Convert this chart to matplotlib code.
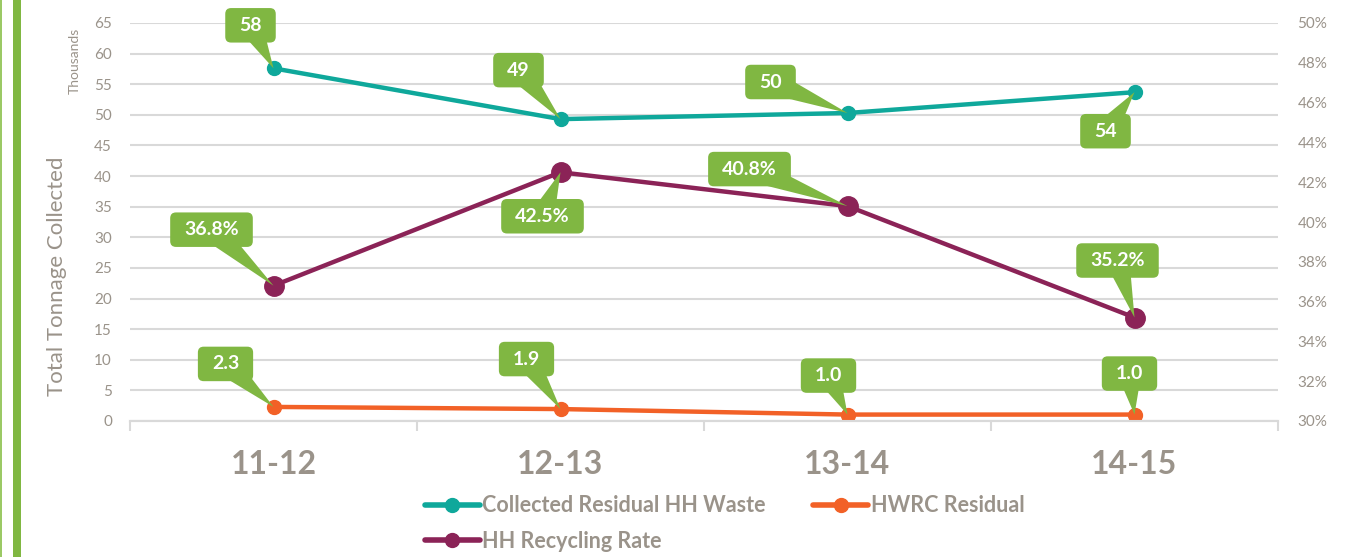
import matplotlib.pyplot as plt
from matplotlib.patches import BoxStyle, Rectangle
from matplotlib.lines import Line2D
from matplotlib.ticker import PercentFormatter

plt.rcParams['font.family'] = ['Lato', 'DejaVu Sans']

years = ['11-12', '12-13', '13-14', '14-15']
residual_hh = [57.6, 49.3, 50.3, 53.7]      # thousand tonnes
hwrc_residual = [2.3, 1.95, 1.05, 1.05]     # thousand tonnes
recycling_rate = [0.368, 0.425, 0.408, 0.352]

residual_labels = ['58', '49', '50', '54']
hwrc_labels = ['2.3', '1.9', '1.0', '1.0']
rate_labels = ['36.8%', '42.5%', '40.8%', '35.2%']

# callout box offsets from the point, in pixels (x right, y up)
residual_offsets = [(-23, 43), (-42, 49), (-77, 31), (-29, -39)]
hwrc_offsets = [(-48, 43), (-34, 50), (-19, 39), (-5, 41)]
rate_offsets = [(-62, 56), (-18, -44), (-98, 37), (-17, 57)]

TEAL = '#0FA89B'
MAROON = '#8B2357'
ORANGE = '#F26127'
GREEN = '#80B742'
GREY = '#9A938A'
GRID = '#D9D9D9'


def callout_box(x0, y0, width, height, mutation_size):
    hpad = 0.72 * mutation_size
    vpad = 0.45 * mutation_size
    rnd = BoxStyle.Round(pad=0, rounding_size=0.3)
    return rnd(x0 - hpad, y0 - vpad, width + 2 * hpad, height + 2 * vpad, mutation_size)


fig = plt.figure(figsize=(13.66, 5.57), dpi=100)
ax = fig.add_axes([130 / 1366, 1 - 421 / 557, 1148 / 1366, 398 / 557])
ax2 = ax.twinx()

x = list(range(len(years)))

ax.plot(x, residual_hh, color=TEAL, lw=3.2, marker='o', ms=10,
        solid_capstyle='round', zorder=3)
ax.plot(x, hwrc_residual, color=ORANGE, lw=3.2, marker='o', ms=10,
        solid_capstyle='round', zorder=3)
ax2.plot(x, recycling_rate, color=MAROON, lw=3.2, marker='o', ms=14,
         solid_capstyle='round', zorder=3)

ax.set_xlim(-0.5, len(years) - 0.5)
ax.set_ylim(0, 65)
ax.set_yticks(range(0, 66, 5))
ax2.set_ylim(0.30, 0.50)
ax2.set_yticks([0.30 + 0.02 * i for i in range(11)])
ax2.yaxis.set_major_formatter(PercentFormatter(1.0, decimals=0))

ax.grid(axis='y', color=GRID, lw=1.5)
ax.set_axisbelow(True)

for a in (ax, ax2):
    for s in ('top', 'left', 'right'):
        a.spines[s].set_visible(False)
    a.spines['bottom'].set_color(GRID)
    a.spines['bottom'].set_linewidth(1.5)

ax.set_xticks(x)
ax.set_xticklabels(years, fontsize=23, fontweight='bold', color=GREY)
ax.set_xticks([i - 0.5 for i in range(len(years) + 1)], minor=True)
ax.tick_params(axis='x', which='major', length=0, pad=21)
ax.tick_params(axis='x', which='minor', length=7.5, width=1.5, color=GRID)
ax.tick_params(axis='y', length=0, pad=13, labelsize=11, labelcolor=GREY)
ax2.tick_params(axis='y', length=0, pad=14, labelsize=11, labelcolor=GREY)

fig.text(57 / 1366, 1 - 276 / 557, 'Total Tonnage Collected', rotation=90,
         ha='center', va='center', fontsize=16, color=GREY)
fig.text(75 / 1366, 1 - 61 / 557, 'Thousands', rotation=90,
         ha='center', va='center', fontsize=10, color=GREY)


def add_callouts(values, labels, offsets, coords):
    for xi, v, lab, off in zip(x, values, labels, offsets):
        ax2.annotate(lab, xy=(xi, v), xycoords=coords,
                     xytext=off, textcoords='offset pixels',
                     ha='center', va='center', fontsize=14,
                     fontweight='bold', color='white', zorder=10,
                     bbox=dict(boxstyle=callout_box, fc=GREEN, ec='none'),
                     arrowprops=dict(arrowstyle='wedge,tail_width=1.25',
                                     fc=GREEN, ec='none', patchA=None,
                                     shrinkA=0, shrinkB=0))


add_callouts(residual_hh, residual_labels, residual_offsets, ax.transData)
add_callouts(hwrc_residual, hwrc_labels, hwrc_offsets, ax.transData)
add_callouts(recycling_rate, rate_labels, rate_offsets, ax2.transData)

handles = [
    Line2D([], [], color=TEAL, lw=4, marker='o', ms=10, solid_capstyle='round'),
    Line2D([], [], color=MAROON, lw=4, marker='o', ms=10, solid_capstyle='round'),
    Line2D([], [], color=ORANGE, lw=4, marker='o', ms=10, solid_capstyle='round'),
]
names = ['Collected Residual HH Waste', 'HH Recycling Rate', 'HWRC Residual']
leg = fig.legend(handles, names, loc='center left',
                 bbox_to_anchor=(414 / 1366, 1 - 523.5 / 557), ncol=2,
                 frameon=False, borderpad=0, handlelength=2.55,
                 handletextpad=0.12, columnspacing=2.2, labelspacing=0.68,
                 prop={'size': 15.5, 'weight': 'bold'})
for t in leg.get_texts():
    t.set_color(GREY)

# green page strips on the left edge
fig.patches.append(Rectangle((0, 0), 2 / 1366, 1, transform=fig.transFigure,
                             fc='#9BC965', ec='none'))
fig.patches.append(Rectangle((13 / 1366, 0), 8 / 1366, 1, transform=fig.transFigure,
                             fc=GREEN, ec='none'))

fig.savefig('out.png', dpi=100)
